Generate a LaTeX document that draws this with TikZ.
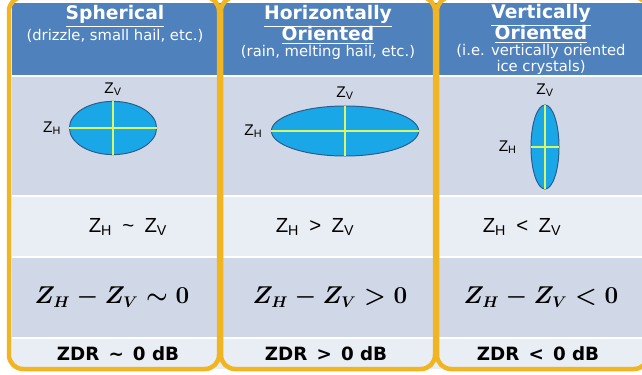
\documentclass[tikz,border=0pt]{standalone}
\usepackage{fontspec}
\setmainfont{DejaVu Sans}
\newfontfamily\arialfont{Liberation Sans}
\usepackage{amsmath}
\usetikzlibrary{positioning,shapes.geometric}

\definecolor{hdrblue}{HTML}{4F81BD}
\definecolor{banddark}{HTML}{D0D8E8}
\definecolor{bandlight}{HTML}{E9EDF4}
\definecolor{framegold}{HTML}{F2B522}
\definecolor{dropblue}{HTML}{1AA7E8}
\definecolor{dropedge}{HTML}{2B5C8A}
\definecolor{axisgreen}{HTML}{D8F46A}

\newcommand\hdrtitle[1]{\textbf{\fontsize{13.3}{13}\selectfont\underline{#1}}}

\begin{document}
\begin{tikzpicture}[x=0.025cm, y=-0.025cm,
    band/.style={fill=#1, draw=white, line width=0.8pt},
    colframe/.style={draw=framegold, line width=3.2pt, rounded corners=0.35cm},
    hdr/.style={text=white, align=center, anchor=north, inner sep=0pt,
                font=\fontsize{10.5}{12.6}\selectfont},
    drop/.style={ellipse, draw=dropedge, fill=dropblue, line width=0.7pt,
                 inner sep=0pt, outer sep=0pt},
    axisline/.style={draw=axisgreen, line width=1.4pt},
    zlab/.style={font=\arialfont\fontsize{11}{12}\selectfont, inner sep=0pt},
    rel/.style={font=\arialfont\fontsize{14.5}{16}\selectfont},
    diff/.style={font=\boldmath\fontsize{16}{18}\selectfont},
    zdr/.style={font=\bfseries\fontsize{13}{15}\selectfont}]
  \useasboundingbox (0,0) rectangle (642,374);
  \clip (0,0) rectangle (642,374);
  \fill[white] (0,0) rectangle (642,374);
  \path[band=hdrblue] (11,2) rectangle (650,76);
  \path[band=banddark] (11,76) rectangle (650,196);
  \path[band=bandlight] (11,196) rectangle (650,257);
  \path[band=banddark] (11,257) rectangle (650,338);
  \path[band=bandlight] (11,338) rectangle (650,370);
  \draw[colframe] (9,-3) rectangle (219,369);
  \draw[colframe] (221,-3) rectangle (435,369);
  \draw[colframe] (437,-3) rectangle (648,369);
  \node[hdr] (hdrA) at (115,5) {\hdrtitle{Spherical}\\
    (drizzle, small hail, etc.)};
  \node[hdr] (hdrB) at (328,5) {\hdrtitle{Horizontally}\\[-2pt]
    \hdrtitle{Oriented}\\[-1pt]
    (rain, melting hail, etc.)};
  \node[hdr] (hdrC) at (541,4) {\hdrtitle{Vertically}\\[-2pt]
    \hdrtitle{Oriented}\\[-1pt]
    (i.e. vertically oriented\\[-1.5pt]ice crystals)};
  \node[drop, minimum width=2.18cm, minimum height=1.33cm] (dropA) at (113,128) {};
  \node[drop, minimum width=3.68cm, minimum height=1.25cm] (dropB) at (345,131) {};
  \node[drop, minimum width=0.70cm, minimum height=2.10cm] (dropC) at (545,147) {};
  \foreach \d in {dropA,dropB,dropC}{
    \draw[axisline] (\d.west) -- (\d.east);
    \draw[axisline] (\d.north) -- (\d.south);
  }
  \node[zlab, above=0.13cm of dropA] (zvA) {Z\textsubscript{V}};
  \node[zlab, left=0.2cm of dropA] (zhA) {Z\textsubscript{H}};
  \node[zlab, above=0.15cm of dropB] (zvB) {Z\textsubscript{V}};
  \node[zlab, left=0.22cm of dropB] (zhB) {Z\textsubscript{H}};
  \node[zlab, above=0.2cm of dropC] (zvC) {Z\textsubscript{V}};
  \node[zlab, left=0.35cm of dropC] (zhC) {Z\textsubscript{H}};
  \node[rel] (relA) at (128,227) {Z\textsubscript{H}\enspace\textasciitilde\enspace Z\textsubscript{V}};
  \node[rel] (relB) at (315,227) {Z\textsubscript{H}\enspace >\enspace Z\textsubscript{V}};
  \node[rel] (relC) at (522,227) {Z\textsubscript{H}\enspace <\enspace Z\textsubscript{V}};
  \node[diff] (diffA) at (112,297) {$Z_H - Z_V \sim 0$};
  \node[diff] (diffB) at (330,297) {$Z_H - Z_V > 0$};
  \node[diff] (diffC) at (541,297) {$Z_H - Z_V < 0$};
  \node[zdr] (zdrA) at (118,354) {ZDR\enspace\textasciitilde\enspace 0 dB};
  \node[zdr] (zdrB) at (326,354) {ZDR\enspace >\enspace 0 dB};
  \node[zdr] (zdrC) at (538,354) {ZDR\enspace <\enspace 0 dB};
\end{tikzpicture}
\end{document}
